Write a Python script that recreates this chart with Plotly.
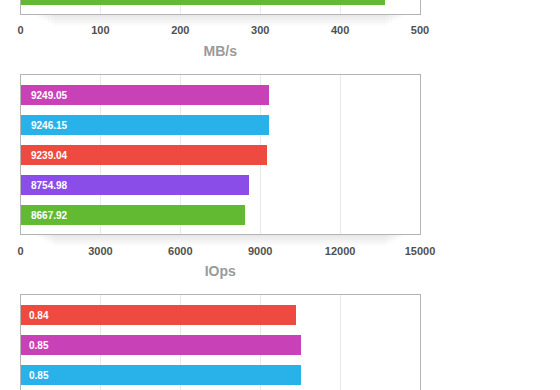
import plotly.graph_objects as go

W, H = 560, 390

# ---- data ----
mbps_categories = ["E"]
mbps_values = [455]
mbps_colors = ["#62BA33"]
mbps_ticks = [0, 100, 200, 300, 400, 500]
mbps_ticktext = ["0", "100", "200", "300", "400", "500"]

iops_categories = ["A", "B", "C", "D", "E"]
iops_values = [9330, 9293, 9255, 8542, 8392]
iops_labels = ["9249.05", "9246.15", "9239.04", "8754.98", "8667.92"]
iops_colors = ["#C941B6", "#29B2E9", "#EE4A3F", "#8B4DE8", "#62BA33"]
iops_ticks = [0, 3000, 6000, 9000, 12000, 15000]
iops_ticktext = ["0", "3000", "6000", "9000", "12000", "15000"]

lat_categories = ["C", "A", "B"]
lat_values = [0.86, 0.875, 0.875]
lat_labels = ["0.84", "0.85", "0.85"]
lat_colors = ["#EE4A3F", "#C941B6", "#29B2E9"]
lat_ticks = [0, 0.25, 0.5, 0.75, 1.0, 1.25]
lat_ticktext = ["0", "0.25", "0.5", "0.75", "1", "1.25"]

FONT = "Liberation Sans, Arial, Helvetica, sans-serif"
BORDER = "#b4b4b4"
GRID = "#e8e8e8"

def ydom(top_px, bot_px):
    return [max(0.0, 1 - bot_px / H), min(1.0, 1 - top_px / H)]

xdom = [20.5 / W, 420 / W]
PITCH = 30.0  # px per category
BARW = 20.0 / PITCH

fig = go.Figure()

fig.add_trace(go.Bar(y=mbps_categories, x=mbps_values, orientation="h",
                     marker=dict(color=mbps_colors, line=dict(width=0)),
                     width=BARW, xaxis="x", yaxis="y", hoverinfo="skip"))
fig.add_trace(go.Bar(y=iops_categories, x=iops_values, orientation="h",
                     marker=dict(color=iops_colors, line=dict(width=0)),
                     width=BARW, xaxis="x2", yaxis="y2", hoverinfo="skip"))
fig.add_trace(go.Bar(y=lat_categories, x=lat_values, orientation="h",
                     marker=dict(color=lat_colors, line=dict(width=0)),
                     width=BARW, xaxis="x3", yaxis="y3", hoverinfo="skip"))

tickfont = dict(family=FONT, size=11, color="#505050", weight="bold")
titlefont = dict(family=FONT, size=14, color="#9a9a9a", weight="bold")

def xaxis(dom_anchor, rng, ticks, ticktext, title, mirror, showlabels, side="bottom"):
    return dict(domain=xdom, anchor=dom_anchor, range=rng, tickvals=ticks,
                ticktext=ticktext,
                showgrid=True, gridcolor=GRID, gridwidth=1, zeroline=False,
                showline=True, linecolor=BORDER, linewidth=1, mirror=mirror,
                ticks="", showticklabels=showlabels, tickfont=tickfont,
                ticklabelstandoff=6, side=side, automargin=False,
                title=dict(text=title, font=titlefont, standoff=10) if title else None,
                fixedrange=True)

def yaxis(dom_anchor, dom, rng, cats):
    return dict(domain=dom, anchor=dom_anchor, range=rng, type="category",
                categoryorder="array", categoryarray=cats,
                showgrid=False, zeroline=False, showline=True, linecolor=BORDER,
                linewidth=1, mirror=True, ticks="", showticklabels=False,
                automargin=False, fixedrange=True)

# top chart: only the bottom 14 px visible
top_bot = 14
mb_bottom = (len(mbps_categories) - 1) + 19.3 / PITCH
mb_top = mb_bottom - top_bot / PITCH
# middle chart
mid_top, mid_bot = 75, 234.3
io_top = -20.0 / PITCH
io_bottom = io_top + (mid_bot - mid_top) / PITCH
# bottom chart
bot_top = 295
la_top = -20.0 / PITCH
la_bottom = la_top + (H - bot_top) / PITCH

fig.update_layout(
    width=W, height=H,
    margin=dict(l=0, r=0, t=0, b=0),
    paper_bgcolor="white", plot_bgcolor="white",
    showlegend=False, bargap=0,
    font=dict(family=FONT),
    xaxis=xaxis("y", [0, 500], mbps_ticks, mbps_ticktext, "MB/s", False, True),
    yaxis=yaxis("x", ydom(-1, top_bot), [mb_bottom, mb_top], mbps_categories),
    xaxis2=xaxis("y2", [0, 15000], iops_ticks, iops_ticktext, "IOps", True, True),
    yaxis2=yaxis("x2", ydom(mid_top, mid_bot), [io_bottom, io_top], iops_categories),
    xaxis3=xaxis("y3", [0, 1.25], lat_ticks, lat_ticktext, None, False, False, side="top"),
    yaxis3=yaxis("x3", ydom(bot_top, H), [la_bottom, la_top], lat_categories),
)

annotations = []
for cat, lab in zip(iops_categories, iops_labels):
    annotations.append(dict(x=0, y=cat, xref="x2", yref="y2", text=lab,
                            showarrow=False, xanchor="left", yanchor="middle",
                            xshift=8, font=dict(family=FONT, size=10, color="white", weight="bold")))
for cat, lab in zip(lat_categories, lat_labels):
    annotations.append(dict(x=0, y=cat, xref="x3", yref="y3", text=lab,
                            showarrow=False, xanchor="left", yanchor="middle",
                            xshift=6, font=dict(family=FONT, size=10, color="white", weight="bold")))
fig.update_layout(annotations=annotations)

# soft shadow under the boxes
shapes = []
for box_bottom in (top_bot, mid_bot):
    for k in range(1, 9):
        shapes.append(dict(type="rect", xref="paper", yref="paper",
                           x0=(30 + k * 3) / W, x1=(410 - k * 3) / W,
                           y0=1 - (box_bottom + 1.5 * k) / H, y1=1 - (box_bottom + 0.5) / H,
                           fillcolor="rgba(0,0,0,0.012)", line=dict(width=0), layer="below"))
fig.update_layout(shapes=shapes)

fig.write_html("out.html", config={"displayModeBar": False},
               post_script="document.body.style.margin='0';document.body.style.padding='0';")
